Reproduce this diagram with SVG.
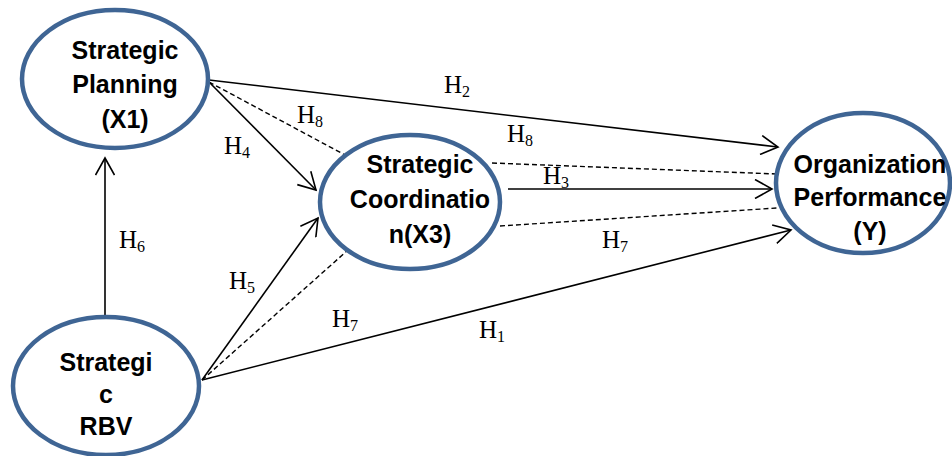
<svg xmlns="http://www.w3.org/2000/svg" width="952" height="456" viewBox="0 0 952 456">
<style>
.node{fill:#fff;stroke:#3F6594;stroke-width:4.5}
.nt{font-family:"Liberation Sans",Arial,sans-serif;font-weight:bold;font-size:25px;fill:#000;text-anchor:middle}
.c{stroke:#000;stroke-width:1.6;fill:none}
.d{stroke:#000;stroke-width:1.4;fill:none;stroke-dasharray:5,3}
.h{font-family:"Liberation Serif","Times New Roman",serif;font-size:25px;fill:#000}
.s{font-size:16px}
</style>
<defs>
<marker id="arr" viewBox="0 0 20 20" refX="18" refY="10" markerWidth="20" markerHeight="20" markerUnits="userSpaceOnUse" orient="auto">
<path d="M1,0.5 L18,10 L1,19.5" fill="none" stroke="#000" stroke-width="1.6"/>
</marker>
</defs>
<rect width="952" height="456" fill="#fff"/>
<g id="connectors">
<line class="c" x1="105" y1="317" x2="105" y2="158" marker-end="url(#arr)"/>
<line class="c" x1="209" y1="80" x2="778" y2="147" marker-end="url(#arr)"/>
<line class="c" x1="209" y1="82" x2="316" y2="190" marker-end="url(#arr)"/>
<line class="d" x1="209" y1="82" x2="345" y2="155"/>
<line class="d" x1="492" y1="163" x2="777" y2="174"/>
<line class="c" x1="508" y1="189" x2="772" y2="189" marker-end="url(#arr)"/>
<line class="d" x1="500" y1="226" x2="777" y2="208"/>
<line class="c" x1="202" y1="380" x2="318" y2="218" marker-end="url(#arr)"/>
<line class="d" x1="202" y1="380" x2="348" y2="250"/>
<line class="c" x1="202" y1="380" x2="791" y2="230" marker-end="url(#arr)"/>
<text class="h" x="444" y="93">H<tspan class="s" dy="4">2</tspan></text>
<text class="h" x="297" y="123">H<tspan class="s" dy="4">8</tspan></text>
<text class="h" x="507" y="142">H<tspan class="s" dy="4">8</tspan></text>
<text class="h" x="224" y="154">H<tspan class="s" dy="4">4</tspan></text>
<text class="h" x="543" y="184">H<tspan class="s" dy="4">3</tspan></text>
<text class="h" x="602" y="248">H<tspan class="s" dy="4">7</tspan></text>
<text class="h" x="119" y="248">H<tspan class="s" dy="4">6</tspan></text>
<text class="h" x="229" y="289">H<tspan class="s" dy="4">5</tspan></text>
<text class="h" x="332" y="327">H<tspan class="s" dy="4">7</tspan></text>
<text class="h" x="479" y="338">H<tspan class="s" dy="4">1</tspan></text>
</g>
<g id="strategic-planning">
<ellipse class="node" cx="115" cy="79" rx="93" ry="69"/>
<text class="nt" x="125" y="59">Strategic</text>
<text class="nt" x="125" y="93">Planning</text>
<text class="nt" x="125" y="128">(X1)</text>
</g>
<g id="strategic-coordination">
<ellipse class="node" cx="410" cy="202" rx="90" ry="67"/>
<text class="nt" x="420" y="173">Strategic</text>
<text class="nt" x="420" y="208">Coordinatio</text>
<text class="nt" x="420" y="243">n(X3)</text>
</g>
<g id="organization-performance">
<ellipse class="node" cx="863" cy="183" rx="87" ry="70"/>
<text class="nt" x="870" y="173">Organization</text>
<text class="nt" x="870" y="206">Performance</text>
<text class="nt" x="870" y="240">(Y)</text>
</g>
<g id="strategic-rbv">
<ellipse class="node" cx="106" cy="386" rx="93" ry="69"/>
<text class="nt" x="106" y="371">Strategi</text>
<text class="nt" x="106" y="403">c</text>
<text class="nt" x="106" y="435">RBV</text>
</g>
</svg>
